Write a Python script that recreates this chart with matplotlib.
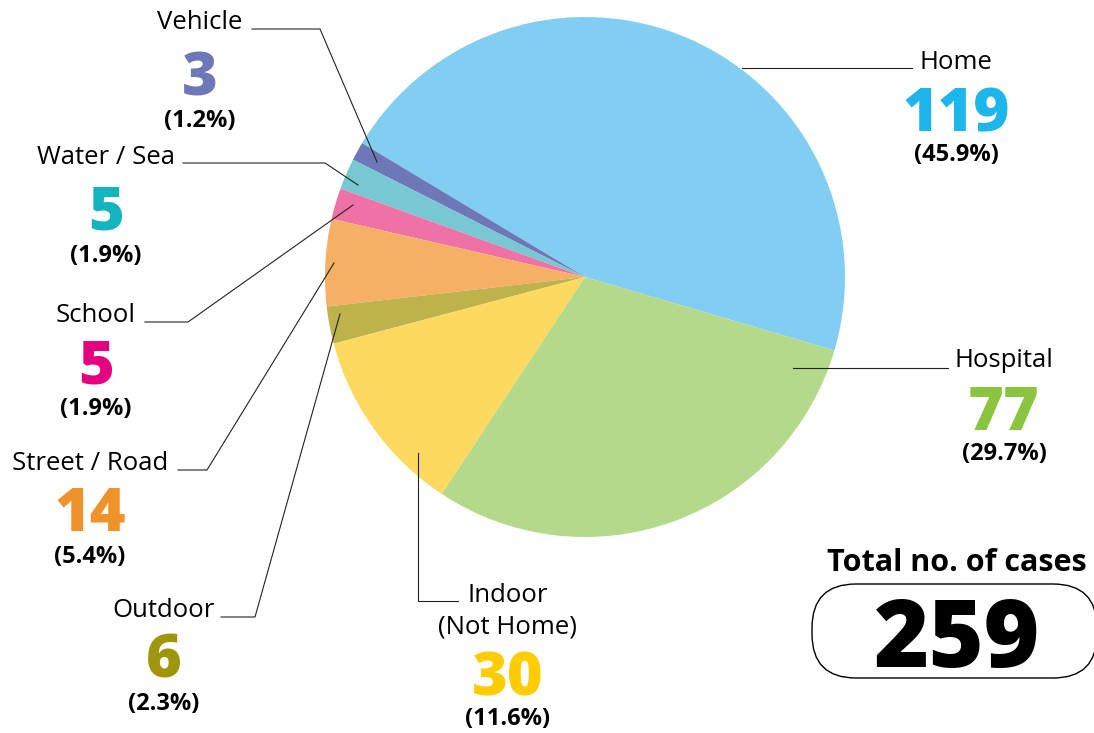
"""Pie chart: place of incident, total number of cases 259."""
import matplotlib
matplotlib.use("Agg")
import matplotlib.pyplot as plt
from matplotlib.patches import FancyBboxPatch

plt.rcParams["font.family"] = ["Open Sans", "DejaVu Sans"]

# data, counter-clockwise from the Home slice
categories = ["Home", "Vehicle", "Water / Sea", "School", "Street / Road",
              "Outdoor", "Indoor\n(Not Home)", "Hospital"]
counts = [119, 3, 5, 5, 14, 6, 30, 77]
slice_colors = ["#82CEF3", "#6E77B8", "#77C8D2", "#EE72A6", "#F5B066",
                "#BDB24B", "#FDD95F", "#B5D98A"]
number_colors = ["#1CB6EB", "#6E77B8", "#11B4BF", "#E4007F", "#F0922A",
                 "#A0960B", "#FFCC00", "#8BC53F"]
total = sum(counts)

W, H = 1094, 733


def Y(y):
    # pixel row (from top) to data y (from bottom)
    return H - y


fig = plt.figure(figsize=(W / 100, H / 100), dpi=100)
ax = fig.add_axes([0, 0, 1, 1])

ax.pie(counts, colors=slice_colors, startangle=-16.4, counterclock=True,
       center=(585, Y(277)), radius=260, frame=True,
       wedgeprops=dict(linewidth=0))
ax.set_xlim(0, W)
ax.set_ylim(0, H)
ax.set_aspect("equal")
ax.axis("off")

# label layout: (x centre, name baseline, number baseline, pct baseline)
layout = {
    "Home": (956, 69, 131, 161),
    "Vehicle": (200, 29, 95, 127),
    "Water / Sea": (106, 164, 229, 262),
    "School": (96, 322, 383, 415),
    "Street / Road": (90, 470, 531, 563),
    "Outdoor": (164, 617, 678, 710),
    "Indoor\n(Not Home)": (508, 602, 695, 725),
    "Hospital": (1004, 367, 430, 460),
}
# leader lines (pixel coords)
leaders = {
    "Home": [(742, 68), (912, 68)],
    "Vehicle": [(377, 162), (320, 29), (252, 29)],
    "Water / Sea": [(358, 185), (325, 163), (183, 163)],
    "School": [(353, 205), (188, 322), (145, 322)],
    "Street / Road": [(334, 263), (207, 470), (178, 470)],
    "Outdoor": [(340, 314), (255, 617), (221, 617)],
    "Indoor\n(Not Home)": [(418, 453), (418, 601), (458, 601)],
    "Hospital": [(793, 368), (948, 368)],
}

for cat, n, col in zip(categories, counts, number_colors):
    x, yname, ynum, ypct = layout[cat]
    lines = cat.split("\n")
    for i, ln in enumerate(lines):
        ax.text(x, Y(yname + 31 * i), ln, ha="center", va="baseline",
                fontsize=18.5, color="black")
    ax.text(x, Y(ynum), str(n), ha="center", va="baseline", fontsize=44,
            fontweight="heavy", color=col)
    ax.text(x, Y(ypct), f"({n / total * 100:.1f}%)", ha="center",
            va="baseline", fontsize=17, fontweight="bold", color="black")
    pts = leaders[cat]
    ax.plot([p[0] for p in pts], [Y(p[1]) for p in pts], color="#222222",
            lw=0.8, solid_joinstyle="miter")

# total box
ax.text(957, Y(571), "Total no. of cases", ha="center", va="baseline",
        fontsize=22, fontweight="bold", color="black")
box = FancyBboxPatch((812, Y(678)), 285, 94,
                     boxstyle="round,pad=0,rounding_size=44",
                     fc="white", ec="black", lw=1.0, clip_on=False)
ax.add_patch(box)
ax.text(957, Y(667), str(total), ha="center", va="baseline", fontsize=68,
        fontweight="heavy", color="black")

fig.savefig("out.png", dpi=100)
